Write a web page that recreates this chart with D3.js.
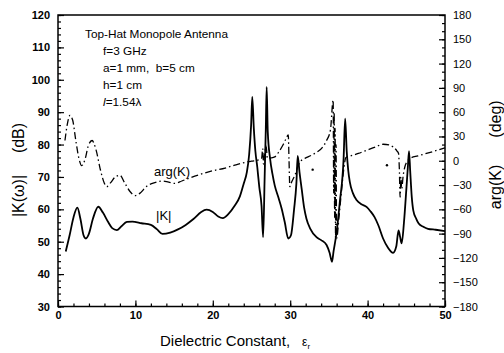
<!DOCTYPE html>
<html>
<head>
<meta charset="utf-8">
<script src="https://cdn.jsdelivr.net/npm/d3@7"></script>
<style>
  body { margin: 0; background: #fff; }
  svg { font-family: Arial, "Liberation Sans", Helvetica, sans-serif; }
  .ax-left text, .ax-bottom text { font-weight: bold; font-size: 11px; fill: #000; }
  .ax-right text { font-size: 11px; fill: #000; }
  .ax line { stroke: #000; stroke-width: 1.2; }
  .ax path { display: none; }
</style>
</head>
<body>
<div id="chart"></div>
<script>
// |K| magnitude (dB) vs dielectric constant
var epsK = [1.0,1.5,2.0,2.5,2.9,3.3,3.6,4.0,4.5,5.2,5.8,6.5,7.0,7.6,8.2,8.9,9.6,10.8,12.0,12.8,13.5,14.5,15.5,16.5,17.5,18.5,19.2,20.0,20.7,21.3,22.0,22.8,23.5,24.0,24.4,24.7,24.95,25.1,25.3,25.5,25.75,26.0,26.3,26.5,26.7,26.85,26.96,27.1,27.4,27.7,28.0,28.5,28.9,29.3,29.75,30.1,30.5,30.8,30.97,31.2,31.5,31.8,32.1,32.6,33.4,34.0,34.7,35.1,35.4,35.6,36.0,36.4,36.9,37.1,37.3,37.5,37.7,38.1,38.6,39.2,39.9,40.4,40.9,41.4,42.0,42.6,43.3,43.7,44.0,44.2,44.4,44.7,45.0,45.2,45.35,45.5,45.7,45.9,46.3,46.6,47.2,47.8,48.8,50.0];
var magK = [47.0,52,57.5,60.5,57,52,51,52.5,57,60.8,59,56,54.2,53.6,54.8,56.1,56.2,55.7,55.2,53.8,52.4,52.8,53.8,55.2,57,59.2,59.9,59.2,57.8,57.3,58.5,61,64,68,71.5,77,86,94.7,85,78,73,67,61,51.4,70,85,97.8,84,75.7,71,67.4,63.5,60.2,56,51,52,60,68,76.5,71.5,66,60.5,57.1,54,51.4,50.5,49,46.5,43.8,47,53,62,75.7,88,78,72,68.5,65,62.8,61.6,60.7,59.3,57.6,55,51,48.3,46.6,48.5,53.5,51.5,49.5,56,66,73,78,72,64,59.7,57,55.6,54.6,54,53.7,53.3];

// arg(K) phase (deg) vs dielectric constant
var epsArg = [0.9,1.2,1.55,1.9,2.3,2.7,3.06,3.5,3.9,4.4,4.9,5.5,6.0,6.3,6.8,7.4,8.0,8.6,9.3,9.95,10.6,11.4,12.5,13.5,14.3,15.1,16.0,16.8,18.3,19.9,21.6,23.0,24.2,25.0,25.9,26.3,26.45,26.55,26.7,26.9,27.05,27.5,28.0,28.6,29.1,29.5,29.75,29.85,29.95,30.2,30.6,31.05,31.5,31.9,32.8,33.5,34.2,34.7,35.2,35.55,35.62,35.68,35.74,35.8,35.86,35.92,36.0,36.3,36.6,36.9,37.2,37.8,38.8,39.9,41.0,42.0,42.8,43.3,43.8,44.0,44.1,44.2,44.3,44.4,44.6,44.8,45.2,45.5,46.5,47.6,49.0,50.0];
var argK = [25,45,56,50,25,3,-6,2,18,25,14,-12,-28,-32,-27,-20,-18,-27,-38,-43,-40,-32,-27,-25,-26.5,-28,-25,-22,-17,-12.6,-9,-5,-2,-0.5,1,3,15,-4,8,18,3,3.5,4.7,12,20,28,32,0,-32,-26,-18,-5.6,1,3,7,11,17,25,38,75,-40,60,-70,40,-95,20,-96,-70,-40,-12,4,6,9,13,17,20.4,19.5,17,12,9,-10,-45,-20,-35,-18,-8,0,3,6,9,13,16];
var argDotEps = [32.9, 42.5];
var argDotDeg = [-11, -5.5];

var xTicks = [0,10,20,30,40,50];
var leftTicks = [30,40,50,60,70,80,90,100,110,120];
var rightTicks = [-180,-150,-120,-90,-60,-30,0,30,60,90,120,150,180];

var notes = ['f=3 GHz', 'a=1 mm,  b=5 cm', 'h=1 cm'];

var W = 504, H = 353;
var L = 58, R = 445, T = 15, B = 306.5;

var svg = d3.select('#chart').append('svg')
  .attr('width', W)
  .attr('height', H);

var x = d3.scaleLinear().domain([0,50]).range([L,R]);
var yL = d3.scaleLinear().domain([30,120]).range([B,T]);
var yR = d3.scaleLinear().domain([-180,180]).range([B,T]);

// minor ticks
svg.append('g').attr('class','ax')
  .attr('transform','translate(0,'+B+')')
  .call(d3.axisBottom(x).tickValues(d3.range(0,51,2)).tickSize(-3).tickFormat(''));
svg.append('g').attr('class','ax')
  .attr('transform','translate('+L+',0)')
  .call(d3.axisLeft(yL).tickValues(d3.range(30,121,2)).tickSize(-3).tickFormat(''));
svg.append('g').attr('class','ax')
  .attr('transform','translate('+R+',0)')
  .call(d3.axisRight(yR).tickValues(d3.range(-180,181,10)).tickSize(-3).tickFormat(''));

// major ticks
svg.append('g').attr('class','ax ax-bottom')
  .attr('transform','translate(0,'+B+')')
  .call(d3.axisBottom(x).tickValues(xTicks).tickSize(-6).tickPadding(5));
svg.append('g').attr('class','ax ax-left')
  .attr('transform','translate('+L+',0)')
  .call(d3.axisLeft(yL).tickValues(leftTicks).tickSize(-6).tickPadding(8));
svg.append('g').attr('class','ax ax-right')
  .attr('transform','translate('+R+',0)')
  .call(d3.axisRight(yR).tickValues(rightTicks).tickSize(-6).tickPadding(8));

// frame
svg.append('rect')
  .attr('x',L).attr('y',T)
  .attr('width',R-L).attr('height',B-T)
  .style('fill','none')
  .style('stroke','#000')
  .style('stroke-width',1.5);

// |K| curve
var magData = epsK.map(function(e,i){ return [e, magK[i]]; });
svg.append('path')
  .datum(magData)
  .attr('d', d3.line().x(d => x(d[0])).y(d => yL(d[1])).curve(d3.curveMonotoneX))
  .style('fill','none')
  .style('stroke','#000')
  .style('stroke-width',1.8);

// arg(K) curve
var argData = epsArg.map(function(e,i){ return [e, argK[i]]; });
svg.append('path')
  .datum(argData)
  .attr('d', d3.line().x(d => x(d[0])).y(d => yR(d[1])).curve(d3.curveMonotoneX))
  .style('fill','none')
  .style('stroke','#000')
  .style('stroke-width',1.3)
  .style('stroke-dasharray','7,3,1.5,3');

svg.selectAll('.argdot')
  .data(argDotEps)
  .enter()
  .append('circle')
  .attr('class','argdot')
  .attr('cx', d => x(d))
  .attr('cy', (d,i) => yR(argDotDeg[i]))
  .attr('r',1.2)
  .style('fill','#000');

// curve labels
svg.append('text').attr('x',154).attr('y',176)
  .style('font-size','13px').text('arg(K)');
svg.append('text').attr('x',156).attr('y',220)
  .style('font-size','13px').text('|K|');

// annotation block
svg.append('text').attr('x',85).attr('y',38)
  .style('font-size','11.8px').text('Top-Hat Monopole Antenna');
svg.selectAll('.note')
  .data(notes)
  .enter()
  .append('text')
  .attr('class','note')
  .attr('x',103)
  .attr('y',(d,i) => 55 + i*17)
  .style('font-size','11.8px')
  .style('white-space','pre')
  .text(d => d);
var lt = svg.append('text').attr('x',103).attr('y',106).style('font-size','11.8px');
lt.append('tspan').style('font-style','italic').text('l');
lt.append('tspan').text('=1.54λ');

// axis titles
function vtext(tx, ty, s){
  svg.append('text')
    .attr('transform','translate('+tx+','+ty+') rotate(-90)')
    .attr('text-anchor','middle')
    .attr('dominant-baseline','central')
    .style('font-size','16px')
    .text(s);
}
vtext(18, 196, '|K(ω)|');
vtext(18, 138, '(dB)');
vtext(495, 187, 'arg(K)');
vtext(495, 119, '(deg)');

var xt = svg.append('text').attr('x',160).attr('y',346).style('font-size','15px');
xt.append('tspan').text('Dielectric Constant,');
xt.append('tspan').attr('dx',12).style('font-size','12px').text('ε');
xt.append('tspan').attr('dy',3).style('font-size','8px').text('r');
</script>
</body>
</html>
